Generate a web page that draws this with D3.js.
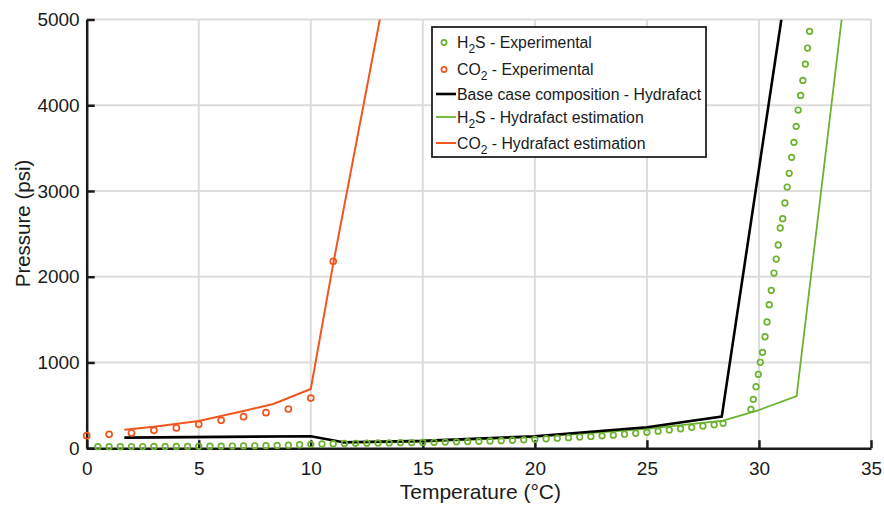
<!DOCTYPE html>
<html lang="en">
<head>
<meta charset="utf-8">
<title>Hydrate pressure vs temperature</title>
<script src="https://cdn.jsdelivr.net/npm/d3@7"></script>
<style>
  body { margin: 0; background: #fff; }
  text { font-family: "Liberation Sans", Arial, sans-serif; fill: #1a1a1a; }
</style>
</head>
<body>
<script>
// Data
var xTicks = [0, 5, 10, 15, 20, 25, 30, 35];
var yTicks = [0, 1000, 2000, 3000, 4000, 5000];

// H2S experimental: temperature (°C) / pressure (psi)
var h2sExpT = [0.5, 1, 1.5, 2, 2.5, 3, 3.5, 4, 4.5, 5, 5.5, 6, 6.5, 7, 7.5, 8, 8.5, 9, 9.5, 10,
               10.5, 11, 11.5, 12, 12.5, 13, 13.5, 14, 14.5, 15, 15.5, 16, 16.5, 17, 17.5, 18, 18.5, 19, 19.5, 20,
               20.5, 21, 21.5, 22, 22.5, 23, 23.5, 24, 24.5, 25, 25.5, 26, 26.5, 27, 27.5, 28, 28.4,
               29.64, 29.75, 29.87, 29.97, 30.06, 30.16, 30.27, 30.36, 30.46, 30.55, 30.67, 30.77, 30.86, 30.95,
               31.06, 31.16, 31.26, 31.35, 31.46, 31.56, 31.66, 31.75, 31.86, 31.96, 32.07, 32.17, 32.26];
var h2sExpP = [18, 18, 18, 19, 19, 20, 20, 21, 21, 22, 23, 24, 25, 26, 28, 30, 32, 35, 40, 45,
               50, 52, 55, 57, 59, 61, 62, 64, 65, 67, 69, 71, 74, 77, 80, 84, 88, 93, 98, 103,
               110, 117, 123, 130, 137, 144, 152, 163, 174, 185, 199, 213, 227, 243, 259, 274, 290,
               453, 570, 717, 862, 1002, 1118, 1300, 1472, 1674, 1841, 2043, 2206, 2370, 2568,
               2677, 2860, 3046, 3206, 3392, 3567, 3754, 3944, 4115, 4290, 4480, 4667, 4862];

// CO2 experimental
var co2ExpT = [0, 1, 2, 3, 4, 5, 6, 7, 8, 9, 10, 11];
var co2ExpP = [146, 162, 177, 209, 236, 278, 325, 368, 414, 457, 585, 2180];

// Hydrafact estimations
var baseT = [1.68, 10, 11.45, 15, 20, 25, 28.34, 31.0];
var baseP = [123, 140, 70, 85, 140, 245, 368, 5000];
var h2sCalcT = [11.45, 15, 20, 25, 28.4, 30, 31.68, 33.69];
var h2sCalcP = [62, 75, 130, 225, 322, 445, 609, 5000];
var co2CalcT = [1.68, 3, 5, 7, 8.33, 10, 11, 13.3];
var co2CalcP = [216, 250, 317, 434, 515, 690, 2150, 5300];

var orange = "#f0561e", green = "#6cb22e", grid = "#dcdcdc";

var W = 884, H = 507;
var pLeft = 86.7, pRight = 871, pTop = 19.5, pBottom = 448.2;

var svg = d3.select("body").append("svg")
    .attr("width", W)
    .attr("height", H);

var x = d3.scaleLinear().domain([0, 35]).range([pLeft, pRight]);
var y = d3.scaleLinear().domain([0, 5000]).range([pBottom, pTop]);

svg.append("clipPath").attr("id", "plot")
  .append("rect")
    .attr("x", pLeft).attr("y", pTop)
    .attr("width", pRight - pLeft).attr("height", pBottom - pTop);

// grid
svg.append("g").selectAll("line")
  .data(xTicks.slice(1))
  .enter().append("line")
    .attr("x1", function(d) { return x(d); })
    .attr("x2", function(d) { return x(d); })
    .attr("y1", pTop).attr("y2", pBottom)
    .attr("stroke", grid).attr("stroke-width", 2);

svg.append("g").selectAll("line")
  .data(yTicks.slice(1))
  .enter().append("line")
    .attr("y1", function(d) { return y(d); })
    .attr("y2", function(d) { return y(d); })
    .attr("x1", pLeft).attr("x2", pRight)
    .attr("stroke", grid).attr("stroke-width", 2);

// axes with inward ticks
var xAxis = svg.append("g")
    .attr("transform", "translate(0," + pBottom + ")")
    .call(d3.axisBottom(x).tickValues(xTicks).tickFormat(d3.format("d"))
      .tickSizeInner(-8).tickSizeOuter(0));
var yAxis = svg.append("g")
    .attr("transform", "translate(" + pLeft + ",0)")
    .call(d3.axisLeft(y).tickValues(yTicks).tickFormat(d3.format("d"))
      .tickSizeInner(-8).tickSizeOuter(0));

[xAxis, yAxis].forEach(function(a) {
  a.select(".domain").attr("stroke", "#1a1a1a").attr("stroke-width", 2.5);
  a.selectAll(".tick line").attr("stroke", "#1a1a1a").attr("stroke-width", 2.5);
  a.selectAll(".tick text")
    .attr("font-family", "Liberation Sans, Arial, sans-serif")
    .attr("font-size", "19px")
    .attr("fill", "#1a1a1a");
});
xAxis.selectAll(".tick text").attr("dy", "0.71em").attr("y", 13);
yAxis.selectAll(".tick text").attr("x", -7);

// axis titles
svg.append("text")
    .attr("x", (pLeft + pRight) / 2 + 1.5)
    .attr("y", 499)
    .attr("text-anchor", "middle")
    .attr("font-size", "21px")
    .text("Temperature (\u00B0C)");

svg.append("text")
    .attr("transform", "translate(30," + 223.5 + ") rotate(-90)")
    .attr("text-anchor", "middle")
    .attr("font-size", "20.5px")
    .text("Pressure (psi)");

// lines
var plot = svg.append("g").attr("clip-path", "url(#plot)");

function pairs(ts, ps) {
  return ts.map(function(t, i) { return [t, ps[i]]; });
}
var line = d3.line()
    .x(function(d) { return x(d[0]); })
    .y(function(d) { return y(d[1]); });

plot.append("path")
    .datum(pairs(h2sCalcT, h2sCalcP))
    .attr("d", line)
    .attr("fill", "none").attr("stroke", green).attr("stroke-width", 1.8);

plot.append("path")
    .datum(pairs(co2CalcT, co2CalcP))
    .attr("d", line)
    .attr("fill", "none").attr("stroke", orange).attr("stroke-width", 2);

plot.append("path")
    .datum(pairs(baseT, baseP))
    .attr("d", line)
    .attr("fill", "none").attr("stroke", "#000").attr("stroke-width", 2.6);

// experimental markers
svg.append("g").selectAll("circle")
  .data(pairs(co2ExpT, co2ExpP))
  .enter().append("circle")
    .attr("cx", function(d) { return x(d[0]); })
    .attr("cy", function(d) { return y(d[1]); })
    .attr("r", 3)
    .attr("fill", "none").attr("stroke", orange).attr("stroke-width", 1.7);

svg.append("g").selectAll("circle")
  .data(pairs(h2sExpT, h2sExpP))
  .enter().append("circle")
    .attr("cx", function(d) { return x(d[0]); })
    .attr("cy", function(d) { return y(d[1]); })
    .attr("r", 2.8)
    .attr("fill", "none").attr("stroke", green).attr("stroke-width", 1.7);

// legend
var lg = svg.append("g");
lg.append("rect")
    .attr("x", 432).attr("y", 27)
    .attr("width", 274).attr("height", 130)
    .attr("fill", "#fff").attr("stroke", "#222").attr("stroke-width", 1.8);

var legendItems = [
  { kind: "dot", color: green, label: ["H", "2", "S - Experimental"], y: 42.5 },
  { kind: "dot", color: orange, label: ["CO", "2", " - Experimental"], y: 69.5 },
  { kind: "line", color: "#000", w: 2.6, label: ["Base case composition - Hydrafact"], y: 94 },
  { kind: "line", color: green, w: 1.8, label: ["H", "2", "S - Hydrafact estimation"], y: 117 },
  { kind: "line", color: orange, w: 2, label: ["CO", "2", " - Hydrafact estimation"], y: 143 }
];

legendItems.forEach(function(it) {
  if (it.kind == "dot") {
    lg.append("circle")
        .attr("cx", 444).attr("cy", it.y).attr("r", 2.6)
        .attr("fill", "none").attr("stroke", it.color).attr("stroke-width", 1.7);
  } else {
    lg.append("line")
        .attr("x1", 436).attr("x2", 456)
        .attr("y1", it.y).attr("y2", it.y)
        .attr("stroke", it.color).attr("stroke-width", it.w);
  }
  var t = lg.append("text")
      .attr("x", 457).attr("y", it.y + 5.5)
      .attr("font-size", "15.8px");
  t.append("tspan").text(it.label[0]);
  if (it.label.length > 1) {
    t.append("tspan").attr("dy", 5).attr("font-size", "12px").text(it.label[1]);
    t.append("tspan").attr("dy", -5).text(it.label[2]);
  }
});
</script>
</body>
</html>
